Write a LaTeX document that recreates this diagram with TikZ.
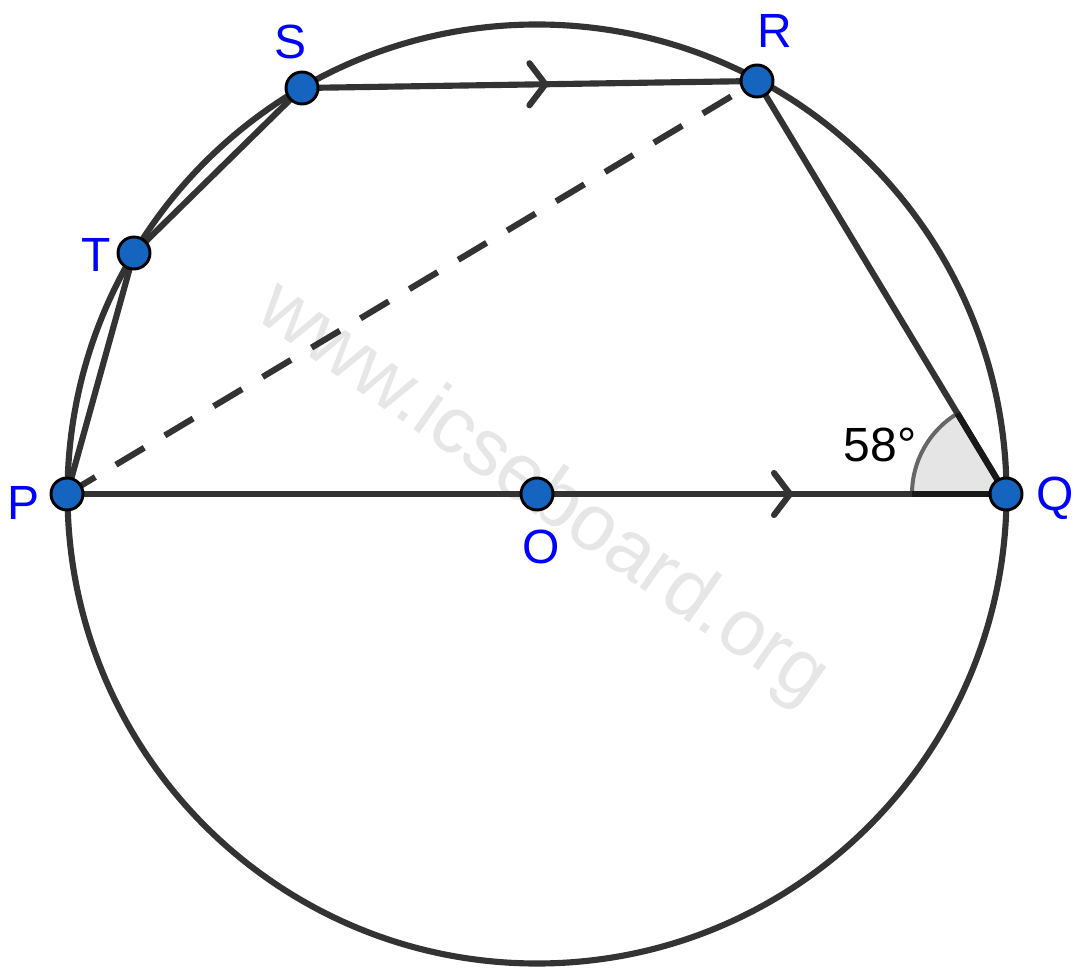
\documentclass[tikz,border=0pt]{standalone}
\usepackage{fontspec}
\setmainfont{Liberation Sans}
\usetikzlibrary{calc}
\definecolor{ln}{HTML}{333333}
\definecolor{ptfill}{HTML}{1565C0}
\definecolor{lbl}{HTML}{0000FF}
\definecolor{wm}{HTML}{E6E6E6}
\definecolor{arcc}{HTML}{666666}
\definecolor{wedge}{HTML}{E5E5E5}
\tikzset{
  seg/.style={draw=ln, line width=4.6pt, line cap=round, line join=round},
  dsh/.style={draw=ln, line width=4.6pt, dash pattern=on 24.75pt off 18pt},
  chev/.style={draw=ln, line width=4.6pt, line cap=round, line join=miter},
  ptnode/.style={circle, fill=ptfill, draw=black, line width=2.2pt, minimum size=24pt, inner sep=0pt},
  lab/.style={text=lbl, font=\fontsize{36}{36}\selectfont, inner sep=0pt},
}
\begin{document}
\begin{tikzpicture}[x=0.75pt, y=-0.75pt]
\useasboundingbox (0,0) rectangle (1085,980);
\fill[white] (0,0) rectangle (1085,980);
% watermark
\node[text=wm, rotate=-35, font=\fontsize{60}{60}\selectfont, inner sep=0pt] (wmark) at (542,494) {www.icseboard.org};
% coordinates
\coordinate (cO) at (537,494);
\coordinate (cP) at (67,494);
\coordinate (cQ) at (1006,494);
\coordinate (cR) at (757,81);
\coordinate (cS) at (302,88);
\coordinate (cT) at (134,253);
% angle wedge
\fill[wedge] (cQ) -- ++(180:70.5pt) arc[start angle=180, end angle=121.1, radius=70.5pt] -- cycle;
\draw[draw=arcc, line width=3pt] (cQ) ++(180:70.5pt) arc[start angle=180, end angle=121.1, radius=70.5pt];
% circle
\draw[draw=ln, line width=4.6pt] (cO) circle[radius=352.125pt];
% segments
\draw[seg] (cP) -- (cQ);
\draw[seg] (cS) -- (cR);
\draw[seg] (cR) -- (cQ);
\draw[seg] (cP) -- (cT) -- (cS);
\draw[dsh] (cP) -- (cR);
% darker angle sides
\draw[draw=black!90, line width=4.6pt] (cQ) -- ++(180:70.5pt);
\draw[draw=black!90, line width=4.6pt] (cQ) -- ++(121.1:70.5pt);
% parallel marks
\coordinate (m1) at ($(cS)!0.535!(cR)$);
\draw[chev] (m1) ++(-16,-21) -- (m1) -- ++(-16,21);
\coordinate (m2) at (790,494);
\draw[chev] (m2) ++(-16,-21) -- (m2) -- ++(-16,21);
% points
\node[ptnode] (P) at (cP) {};
\node[ptnode] (Q) at (cQ) {};
\node[ptnode] (O) at (cO) {};
\node[ptnode] (R) at (cR) {};
\node[ptnode] (S) at (cS) {};
\node[ptnode] (T) at (cT) {};
% labels
\node[lab] (lP) at (24,503) {P};
\node[lab] (lQ) at (1055,498) {Q};
\node[lab] (lO) at (541,547) {O};
\node[lab] (lR) at (775,31) {R};
\node[lab] (lS) at (291,42) {S};
\node[lab] (lT) at (96,255) {T};
\node[lab, text=black] (ang) at (880,445) {58°};
\end{tikzpicture}
\end{document}
